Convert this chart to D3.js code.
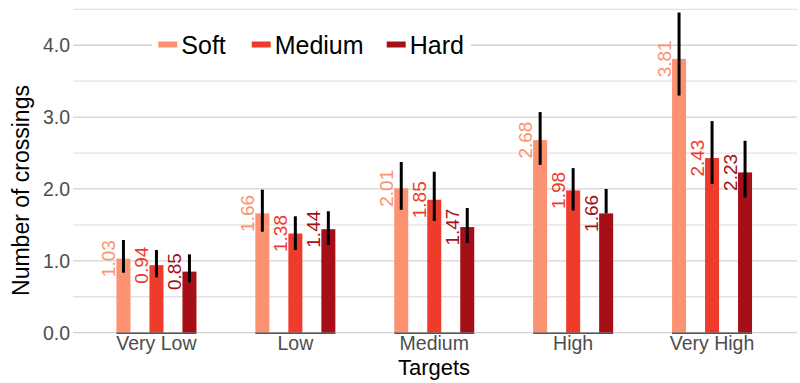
<!DOCTYPE html>
<html>
<head>
<meta charset="utf-8">
<script src="https://cdn.jsdelivr.net/npm/d3@7"></script>
<style>
  html, body { margin: 0; padding: 0; background: #fff; }
  svg { display: block; font-family: "Liberation Sans", Arial, sans-serif; }
</style>
</head>
<body>
<svg id="chart" width="800" height="383"></svg>
<script>
const categories = ["Very Low", "Low", "Medium", "High", "Very High"];
const series = ["Soft", "Medium", "Hard"];
const colors = ["#fc9272", "#ef3b2c", "#a50f15"];
const softValues   = [1.03, 1.66, 2.01, 2.68, 3.81];
const mediumValues = [0.94, 1.38, 1.85, 1.98, 2.43];
const hardValues   = [0.85, 1.44, 1.47, 1.66, 2.23];
const softLow    = [0.835, 1.405, 1.71, 2.335, 3.30];
const softHigh   = [1.29, 1.99, 2.375, 3.07, 4.455];
const mediumLow  = [0.77, 1.15, 1.555, 1.70, 2.07];
const mediumHigh = [1.15, 1.62, 2.24, 2.29, 2.945];
const hardLow    = [0.70, 1.22, 1.25, 1.66, 1.88];
const hardHigh   = [1.09, 1.69, 1.735, 2.00, 2.67];
const yTicks = [0, 1, 2, 3, 4];
const yTickLabels = ["0.0", "1.0", "2.0", "3.0", "4.0"];
const gridValues = [0, 0.5, 1, 1.5, 2, 2.5, 3, 3.5, 4, 4.5];
const xTitle = "Targets";
const yTitle = "Number of crossings";

const valuesBySeries = [softValues, mediumValues, hardValues];
const lowBySeries = [softLow, mediumLow, hardLow];
const highBySeries = [softHigh, mediumHigh, hardHigh];

const data = [];
series.forEach((s, si) => {
  categories.forEach((c, ci) => {
    data.push({ series: s, si, category: c, value: valuesBySeries[si][ci],
                lo: lowBySeries[si][ci], hi: highBySeries[si][ci] });
  });
});

const svg = d3.select("#chart");
const plotLeft = 73, plotRight = 797;
const y = d3.scaleLinear().domain([0, 4.5]).range([332.7, 9.3]);
const x = d3.scaleBand().domain(categories).range([87, 781.5]).padding(0);
const xs = d3.scaleBand().domain(series).range([-49.5, 49.5]).padding(0);
const barW = 14;
const cx = d => x(d.category) + x.bandwidth() / 2 + xs(d.series) + xs.bandwidth() / 2;

// gridlines
svg.append("g").selectAll("line").data(gridValues).join("line")
  .attr("x1", plotLeft).attr("x2", plotRight)
  .attr("y1", d => y(d)).attr("y2", d => y(d))
  .attr("stroke", d => Number.isInteger(d) ? "#d3d3d3" : "#e3e3e3")
  .attr("stroke-width", 1.3);

// y tick labels
svg.append("g").selectAll("text").data(yTicks).join("text")
  .attr("x", 70).attr("y", d => y(d)).attr("dy", "0.35em")
  .attr("text-anchor", "end").attr("fill", "#4d4d4d")
  .attr("font-size", 19.5)
  .text((d, i) => yTickLabels[i]);

// legend
const legend = svg.append("g");
legend.append("rect").attr("x", 152).attr("y", 28).attr("width", 319).attr("height", 34).attr("fill", "#fff");
const legendX = [158.3, 251.7, 386.7];
series.forEach((s, i) => {
  legend.append("rect").attr("x", legendX[i]).attr("y", 41.5).attr("width", 19).attr("height", 6)
    .attr("fill", colors[i]);
  legend.append("text").attr("x", legendX[i] + 23).attr("y", 54.3)
    .attr("font-size", 25).attr("fill", "#000").text(s);
});

// bars
svg.append("g").selectAll("rect").data(data).join("rect")
  .attr("x", d => cx(d) - barW / 2)
  .attr("width", barW)
  .attr("y", d => y(d.value))
  .attr("height", d => y(0) - y(d.value))
  .attr("fill", d => colors[d.si]);

// axis segments under each group
svg.append("g").selectAll("line").data(categories).join("line")
  .attr("x1", c => x(c) + x.bandwidth() / 2 + xs(series[0]) + xs.bandwidth() / 2 - barW / 2)
  .attr("x2", c => x(c) + x.bandwidth() / 2 + xs(series[2]) + xs.bandwidth() / 2 + barW / 2)
  .attr("y1", y(0) + 0.6).attr("y2", y(0) + 0.6)
  .attr("stroke", "#555").attr("stroke-width", 1.5);

// x tick labels
svg.append("g").selectAll("text").data(categories).join("text")
  .attr("x", c => x(c) + x.bandwidth() / 2).attr("y", 349.5)
  .attr("text-anchor", "middle").attr("fill", "#4d4d4d")
  .attr("font-size", 19.5).text(c => c);

// error bars
svg.append("g").selectAll("line").data(data).join("line")
  .attr("x1", cx).attr("x2", cx)
  .attr("y1", d => y(d.hi)).attr("y2", d => y(d.lo))
  .attr("stroke", "#000").attr("stroke-width", 3);

// value labels
svg.append("g").selectAll("text").data(data).join("text")
  .attr("transform", d => `translate(${cx(d) - barW / 2 - 1.5},${y(d.value)}) rotate(-90)`)
  .attr("text-anchor", "middle")
  .attr("font-size", 19)
  .attr("fill", d => colors[d.si])
  .text(d => d.value.toFixed(2));

// axis titles
svg.append("text").attr("x", 434).attr("y", 375).attr("text-anchor", "middle")
  .attr("font-size", 22).attr("fill", "#000").text(xTitle);
svg.append("text").attr("transform", "translate(28.5,190.5) rotate(-90)")
  .attr("text-anchor", "middle").attr("font-size", 23).attr("fill", "#000").text(yTitle);
</script>
</body>
</html>
